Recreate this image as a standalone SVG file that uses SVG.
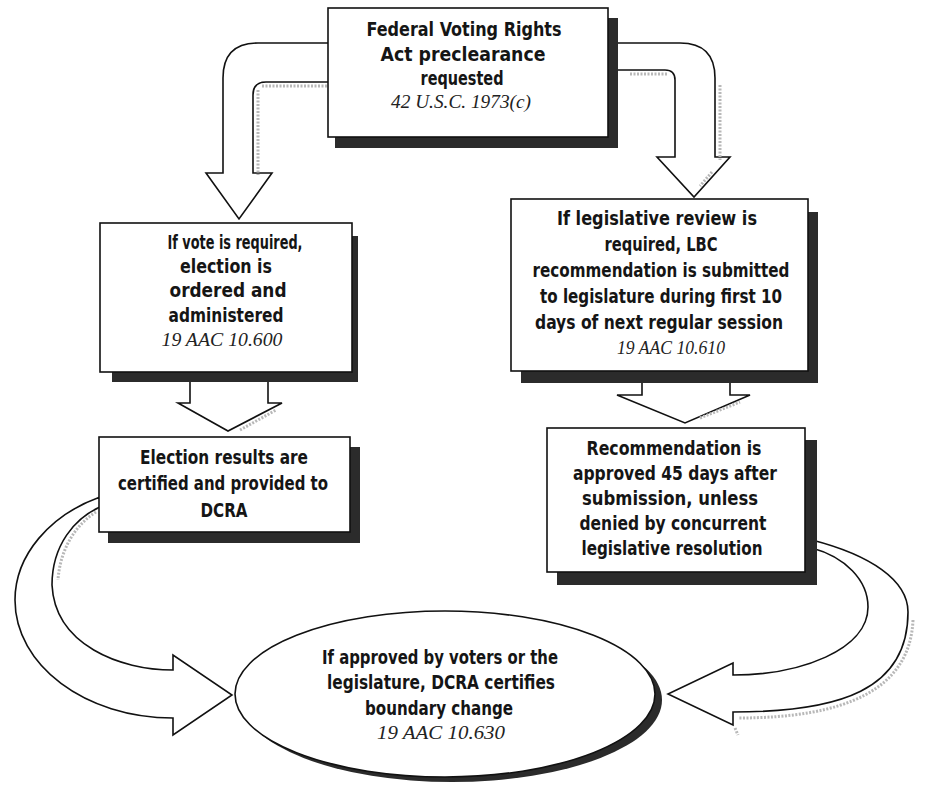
<svg xmlns="http://www.w3.org/2000/svg" width="925" height="789" viewBox="0 0 925 789">
<style>
.box{fill:#fff;stroke:#111;stroke-width:1.6}
.sh{fill:#2b2b2b}
.ar{fill:#fff;stroke:#111;stroke-width:1.6;stroke-linejoin:miter}
.hatch{fill:none;stroke:#b8b8b8;stroke-width:3;stroke-dasharray:2 1.5}
.t{font-family:"DejaVu Sans Condensed","DejaVu Sans",sans-serif;font-weight:bold;font-stretch:condensed;font-size:20px;fill:#151515;text-anchor:middle}
.r{font-family:"Liberation Serif",serif;font-style:italic;font-size:19px;fill:#222;text-anchor:middle}
</style>
<rect width="925" height="789" fill="#fff"/>
<g id="connectors">
  <path class="ar" d="M330,43 L258,43 Q223,43 223,78 L223,173 L206,173 L239,219 L272,173 L253,173 L253,95 Q253,82 266,82 L330,82 Z"/>
  <path class="hatch" d="M258,90 L258,175 M262,86 L330,86"/>
  <path class="ar" d="M615,43 L680,43 Q715,43 715,78 L715,157 L730,157 L694,197 L657,157 L675,157 L675,80 Q675,70 665,70 L615,70 Z"/>
  <path class="hatch" d="M720,85 L720,160 M712,172 L700,186 M630,74 L668,74"/>
  <path class="ar" d="M190,375 L190,403 L178,403 L228,431 L282,403 L268,403 L268,375 Z"/>
  <path class="hatch" d="M240,430 L276,410"/>
  <path class="ar" d="M642,375 L642,395 L617,395 L685,423 L750,395 L730,395 L730,375 Z"/>
  <path class="hatch" d="M700,418 L740,402"/>
  <path class="ar" d="M100,497 C50,515 15,555 15,600 C15,665 85,718 173,718 L173,735 L232,695 L173,655 L173,670 C120,670 55,645 52,585 C52,545 75,518 100,507 Z"/>
  <path class="hatch" d="M96,512 C75,525 60,550 58,580"/>
  <path class="ar" d="M812,540 C870,555 908,580 908,612 C908,690 840,712 733,712 L733,725 L668,694 L733,663 L733,675 C800,675 868,650 868,607 C868,580 845,557 812,548 Z"/>
  <path class="hatch" d="M913,620 C910,690 845,718 738,718 M735,728 L738,735"/>
</g>
<g id="node-preclearance">
  <rect class="sh" x="335" y="18" width="283" height="130"/>
  <rect class="box" x="328" y="8" width="280" height="129"/>
  <text class="t" x="464" y="36" textLength="195" lengthAdjust="spacingAndGlyphs">Federal Voting Rights</text>
  <text class="t" x="463" y="61" textLength="165" lengthAdjust="spacingAndGlyphs">Act preclearance</text>
  <text class="t" x="462" y="85" textLength="83" lengthAdjust="spacingAndGlyphs">requested</text>
  <text class="r" x="461" y="108" textLength="140" lengthAdjust="spacingAndGlyphs">42 U.S.C. 1973(c)</text>
</g>
<g id="node-election-ordered">
  <rect class="sh" x="112" y="236" width="246" height="146"/>
  <rect class="box" x="100" y="223" width="252" height="149"/>
  <text class="t" x="235" y="249" textLength="135" lengthAdjust="spacingAndGlyphs">If vote is required,</text>
  <text class="t" x="226" y="273" textLength="92" lengthAdjust="spacingAndGlyphs">election is</text>
  <text class="t" x="228" y="297" textLength="117" lengthAdjust="spacingAndGlyphs">ordered and</text>
  <text class="t" x="226" y="322" textLength="115" lengthAdjust="spacingAndGlyphs">administered</text>
  <text class="r" x="222" y="346" textLength="121" lengthAdjust="spacingAndGlyphs">19 AAC 10.600</text>
</g>
<g id="node-legislative-review">
  <rect class="sh" x="521" y="212" width="297" height="171"/>
  <rect class="box" x="511" y="199" width="297" height="172"/>
  <text class="t" x="657" y="225" textLength="200" lengthAdjust="spacingAndGlyphs">If legislative review is</text>
  <text class="t" x="661" y="251" textLength="113" lengthAdjust="spacingAndGlyphs">required, LBC</text>
  <text class="t" x="661" y="277" textLength="257" lengthAdjust="spacingAndGlyphs">recommendation is submitted</text>
  <text class="t" x="661" y="303" textLength="242" lengthAdjust="spacingAndGlyphs">to legislature during first 10</text>
  <text class="t" x="659" y="329" textLength="248" lengthAdjust="spacingAndGlyphs">days of next regular session</text>
  <text class="r" x="671" y="354" textLength="108" lengthAdjust="spacingAndGlyphs">19 AAC 10.610</text>
</g>
<g id="node-election-results">
  <rect class="sh" x="108" y="447" width="252" height="96"/>
  <rect class="box" x="99" y="437" width="251" height="95"/>
  <text class="t" x="224" y="464" textLength="168" lengthAdjust="spacingAndGlyphs">Election results are</text>
  <text class="t" x="223" y="490" textLength="210" lengthAdjust="spacingAndGlyphs">certified and provided to</text>
  <text class="t" x="224" y="517" textLength="47" lengthAdjust="spacingAndGlyphs">DCRA</text>
</g>
<g id="node-recommendation">
  <rect class="sh" x="557" y="440" width="260" height="145"/>
  <rect class="box" x="547" y="428" width="258" height="144"/>
  <text class="t" x="674" y="455" textLength="175" lengthAdjust="spacingAndGlyphs">Recommendation is</text>
  <text class="t" x="675" y="480" textLength="204" lengthAdjust="spacingAndGlyphs">approved 45 days after</text>
  <text class="t" x="670" y="505" textLength="176" lengthAdjust="spacingAndGlyphs">submission, unless</text>
  <text class="t" x="673" y="530" textLength="187" lengthAdjust="spacingAndGlyphs">denied by concurrent</text>
  <text class="t" x="672" y="555" textLength="181" lengthAdjust="spacingAndGlyphs">legislative resolution</text>
</g>
<g id="node-certifies">
  <ellipse class="sh" cx="452" cy="700" rx="210" ry="82"/>
  <ellipse class="box" cx="445" cy="694" rx="210" ry="83"/>
  <text class="t" x="440" y="664" textLength="236" lengthAdjust="spacingAndGlyphs">If approved by voters or the</text>
  <text class="t" x="441" y="689" textLength="228" lengthAdjust="spacingAndGlyphs">legislature, DCRA certifies</text>
  <text class="t" x="439" y="715" textLength="148" lengthAdjust="spacingAndGlyphs">boundary change</text>
  <text class="r" x="441" y="739" textLength="128" lengthAdjust="spacingAndGlyphs">19 AAC 10.630</text>
</g>
</svg>
